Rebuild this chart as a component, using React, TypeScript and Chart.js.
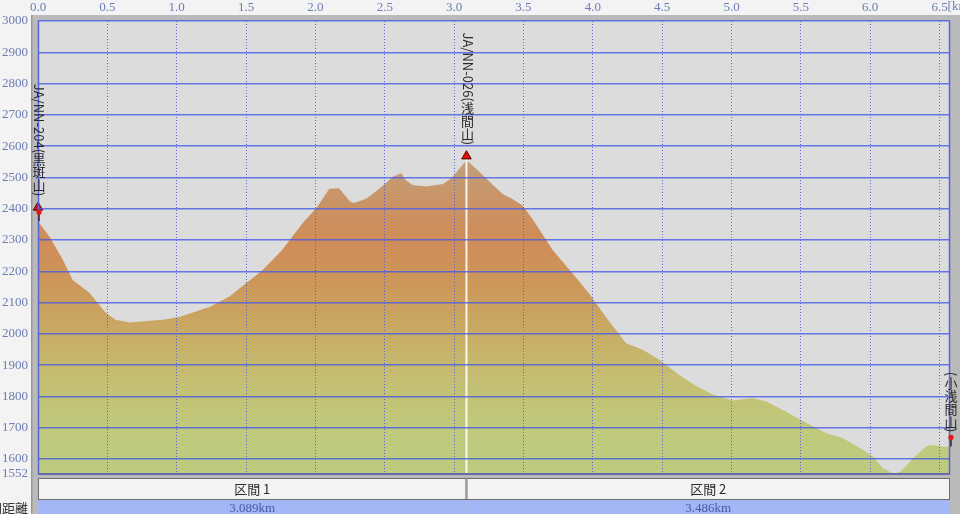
import React, { useEffect, useRef } from "react";
import { Chart, registerables } from "chart.js";
Chart.register(...registerables);

// ---- data ----
const distanceKm = [0, 0.083, 0.18, 0.25, 0.37, 0.49, 0.56, 0.66, 0.9, 1.02, 1.24, 1.38, 1.5, 1.62, 1.76, 1.91, 2.01, 2.1, 2.17, 2.25, 2.28, 2.37, 2.48, 2.56, 2.62, 2.65, 2.7, 2.8, 2.92, 2.98, 3.03, 3.089, 3.18, 3.28, 3.35, 3.42, 3.49, 3.57, 3.71, 3.85, 3.98, 4.1, 4.24, 4.36, 4.48, 4.62, 4.75, 4.87, 5.01, 5.15, 5.25, 5.39, 5.54, 5.68, 5.8, 5.95, 6.02, 6.09, 6.17, 6.22, 6.31, 6.41, 6.46, 6.53, 6.575];
const elevationM = [2360, 2310, 2236, 2172, 2131, 2067, 2045, 2036, 2045, 2054, 2087, 2119, 2162, 2204, 2268, 2355, 2404, 2464, 2465, 2423, 2418, 2433, 2471, 2503, 2513, 2492, 2476, 2471, 2479, 2497, 2524, 2556, 2519, 2476, 2447, 2431, 2412, 2364, 2268, 2195, 2125, 2050, 1970, 1949, 1917, 1869, 1832, 1805, 1787, 1795, 1784, 1752, 1715, 1683, 1667, 1629, 1608, 1571, 1552, 1560, 1603, 1642, 1645, 1638, 1640];

const summitKm = [0, 3.089];
const summitElev = [2404, 2568];
const summitNames = ["JA/NN-204(黒斑山)", "JA/NN-026(浅間山)"];
const endName = "(小浅間山)";

const sectionNames = ["区間 1", "区間 2"];
const sectionKm = [3.089, 3.486];
const sectionRowLabel = "区間距離";

const xTicks = [0, 0.5, 1, 1.5, 2, 2.5, 3, 3.5, 4, 4.5, 5, 5.5, 6, 6.5];
const yTicks = [1552, 1600, 1700, 1800, 1900, 2000, 2100, 2200, 2300, 2400, 2500, 2600, 2700, 2800, 2900, 3000];
const yMin = 1552;
const yMax = 3000;
const totalKm = sectionKm[0] + sectionKm[1];

const gradientStops: [number, string][] = [
  [2570, "#c2a07e"],
  [2450, "#c8966a"],
  [2300, "#d08c58"],
  [2150, "#cc985a"],
  [2000, "#c8ac66"],
  [1850, "#c4bf72"],
  [1700, "#c0c97c"],
  [1552, "#bdcb7e"],
];

const tickFont = { family: "'Liberation Serif', serif", size: 13 };
const tickColor = "#6c7cb4";
const labelSize = 13;
const labelFont = `${labelSize}px 'Noto Sans CJK JP', sans-serif`;

const isCJK = (ch: string) => /[\u3000-\u9fff\uff00-\uffef]/.test(ch);

const decor = {
  id: "decor",
  beforeDraw(chart: any) {
    const { ctx, chartArea: a, width, height } = chart;
    ctx.save();
    ctx.fillStyle = "#f3f3f3";
    ctx.fillRect(0, 0, width, height);
    ctx.fillStyle = "#bababa";
    ctx.fillRect(31, 15, width - 31, height - 15);
    ctx.fillStyle = "#999999";
    ctx.fillRect(31, 15, 1.5, height - 15);
    ctx.fillStyle = "#dcdcdc";
    ctx.fillRect(a.left, a.top, a.right - a.left, a.bottom - a.top);
    ctx.restore();
  },
  afterDraw(chart: any) {
    const { ctx, chartArea: a, height } = chart;
    const xs = chart.scales.x;
    const ys = chart.scales.y;
    ctx.save();
    // borders
    ctx.strokeStyle = "#5566dd";
    ctx.lineWidth = 1.5;
    ctx.beginPath();
    ctx.moveTo(a.left + 0.5, a.top);
    ctx.lineTo(a.left + 0.5, a.bottom);
    ctx.moveTo(a.right - 0.5, a.top);
    ctx.lineTo(a.right - 0.5, a.bottom + 1);
    ctx.stroke();
    ctx.strokeStyle = "#6a6aa8";
    ctx.lineWidth = 2;
    ctx.beginPath();
    ctx.moveTo(a.left, a.bottom);
    ctx.lineTo(a.right, a.bottom);
    ctx.stroke();

    // "[km]" unit after last tick
    ctx.font = "13px 'Liberation Serif', serif";
    ctx.fillStyle = tickColor;
    ctx.textAlign = "left";
    ctx.textBaseline = "middle";
    ctx.fillText("[km]", xs.getPixelForValue(6.5) + 8, 7);

    // route end pins
    const pins = [
      [distanceKm[0], elevationM[0]],
      [distanceKm[distanceKm.length - 1], elevationM[elevationM.length - 1]],
    ];
    pins.forEach(([k, e]) => {
      const px = xs.getPixelForValue(k) + 1;
      const py = ys.getPixelForValue(e);
      ctx.strokeStyle = "#402020";
      ctx.lineWidth = 1.5;
      ctx.beginPath();
      ctx.moveTo(px, py);
      ctx.lineTo(px, py - 8);
      ctx.stroke();
      ctx.fillStyle = "#e01818";
      ctx.beginPath();
      ctx.arc(px, py - 9, 2.6, 0, Math.PI * 2);
      ctx.fill();
    });

    // vertical labels (Japanese vertical writing: CJK upright, Latin rotated)
    ctx.font = labelFont;
    ctx.fillStyle = "#2a2a2a";
    const advance = (ch: string) => (isCJK(ch) ? labelSize : ctx.measureText(ch).width);
    const drawV = (text: string, x: number, yEnd: number) => {
      const chars = Array.from(text);
      const total = chars.reduce((s, c) => s + advance(c), 0);
      let y = yEnd - total;
      chars.forEach((ch) => {
        const adv = advance(ch);
        if (isCJK(ch)) {
          ctx.textAlign = "center";
          ctx.textBaseline = "middle";
          ctx.fillText(ch, x, y + adv / 2);
        } else {
          ctx.save();
          ctx.translate(x, y);
          ctx.rotate(Math.PI / 2);
          ctx.textAlign = "left";
          ctx.textBaseline = "middle";
          ctx.fillText(ch, 0, 0);
          ctx.restore();
        }
        y += adv;
      });
    };
    summitKm.forEach((k, i) => {
      drawV(summitNames[i], xs.getPixelForValue(k) + 1, ys.getPixelForValue(summitElev[i]) - 11);
    });
    const endX = xs.getPixelForValue(distanceKm[distanceKm.length - 1]) + 1;
    const endY = ys.getPixelForValue(elevationM[elevationM.length - 1]);
    drawV(endName, endX, endY - 14);

    // table
    const r1t = 478, r1b = 499, r2t = 500;
    let start = 0;
    sectionKm.forEach((len, i) => {
      const x0 = xs.getPixelForValue(start);
      const x1 = xs.getPixelForValue(start + len);
      ctx.fillStyle = "#f3f3f3";
      ctx.fillRect(x0, r1t, x1 - x0, r1b - r1t);
      ctx.strokeStyle = "#6e6e6e";
      ctx.lineWidth = 1;
      ctx.strokeRect(x0 + 0.5, r1t + 0.5, x1 - x0 - 1, r1b - r1t);
      ctx.fillStyle = "#a3b6f6";
      ctx.fillRect(x0, r2t, x1 - x0, height - r2t);
      ctx.fillStyle = "#2a2a2a";
      ctx.font = "13px 'Noto Sans CJK JP', sans-serif";
      ctx.textAlign = "center";
      ctx.textBaseline = "middle";
      ctx.fillText(sectionNames[i], (x0 + x1) / 2, (r1t + r1b) / 2 + 1);
      ctx.fillStyle = "#4858a8";
      ctx.font = "13px 'Liberation Serif', serif";
      ctx.fillText(len.toFixed(3) + "km", (x0 + x1) / 2, 509);
      start += len;
    });
    ctx.fillStyle = "#333333";
    ctx.font = "13px 'Noto Sans CJK JP', sans-serif";
    ctx.textAlign = "right";
    ctx.textBaseline = "middle";
    ctx.fillText(sectionRowLabel, 28, 508);
    ctx.restore();
  },
};

export default function App() {
  const ref = useRef<HTMLCanvasElement>(null);
  useEffect(() => {
    if (!ref.current) return;
    const profile = distanceKm.map((x, i) => ({ x, y: elevationM[i] }));
    const summits = summitKm.map((x, i) => ({ x, y: summitElev[i] }));
    const peakLine = [
      { x: summitKm[1], y: summitElev[1] },
      { x: summitKm[1], y: yMin },
    ];
    const chart = new Chart(ref.current, {
      type: "line",
      data: {
        datasets: [
          {
            data: summits as any,
            showLine: false,
            pointStyle: "triangle",
            pointRadius: 5.5,
            pointBackgroundColor: "#e01010",
            pointBorderColor: "#600000",
            pointBorderWidth: 1,
            clip: false as any,
            order: 0,
          },
          {
            data: peakLine as any,
            borderColor: "rgba(255,255,255,0.9)",
            borderWidth: 2,
            pointRadius: 0,
            fill: false,
            order: 1,
          },
          {
            data: profile as any,
            borderWidth: 0,
            borderColor: "rgba(0,0,0,0)",
            pointRadius: 0,
            fill: "start",
            tension: 0,
            order: 2,
            backgroundColor: (c: any) => {
              const chart = c.chart;
              if (!chart.chartArea) return "#c8a860";
              const ys = chart.scales.y;
              const top = ys.getPixelForValue(gradientStops[0][0]);
              const bot = ys.getPixelForValue(gradientStops[gradientStops.length - 1][0]);
              const g = chart.ctx.createLinearGradient(0, top, 0, bot);
              gradientStops.forEach(([e, col]) => {
                const f = (ys.getPixelForValue(e) - top) / (bot - top);
                g.addColorStop(Math.min(1, Math.max(0, f)), col);
              });
              return g;
            },
          },
        ],
      },
      options: {
        animation: false,
        responsive: false,
        devicePixelRatio: 1,
        layout: { padding: { left: 0, top: 0, right: 10, bottom: 40 } },
        plugins: { legend: { display: false }, tooltip: { enabled: false } },
        scales: {
          x: {
            type: "linear",
            position: "top",
            min: 0,
            max: totalKm,
            afterBuildTicks: (s: any) => {
              s.ticks = xTicks.map((v) => ({ value: v }));
            },
            afterFit: (s: any) => {
              s.height = 21;
            },
            grid: { z: 1, drawTicks: false, color: "rgba(70,85,225,0.85)", lineWidth: 1 },
            border: { display: false, dash: [1, 2] },
            ticks: {
              autoSkip: false,
              maxRotation: 0,
              padding: 6,
              font: tickFont,
              color: tickColor,
              callback: (v: any) => Number(v).toFixed(1),
            },
          },
          y: {
            type: "linear",
            min: yMin,
            max: yMax,
            afterBuildTicks: (s: any) => {
              s.ticks = yTicks.map((v) => ({ value: v }));
            },
            afterFit: (s: any) => {
              s.width = 38;
            },
            grid: { z: 1, drawTicks: false, color: "rgba(70,90,230,0.8)", lineWidth: 1.5 },
            border: { display: false },
            ticks: {
              autoSkip: false,
              padding: 10,
              font: tickFont,
              color: tickColor,
              callback: (v: any) => String(v),
            },
          },
        },
      },
      plugins: [decor],
    });
    return () => chart.destroy();
  }, []);
  return (
    <div style={{ position: "fixed", left: 0, top: 0, width: 960, height: 514 }}>
      <canvas ref={ref} width={960} height={514} style={{ width: 960, height: 514, display: "block" }} />
    </div>
  );
}
